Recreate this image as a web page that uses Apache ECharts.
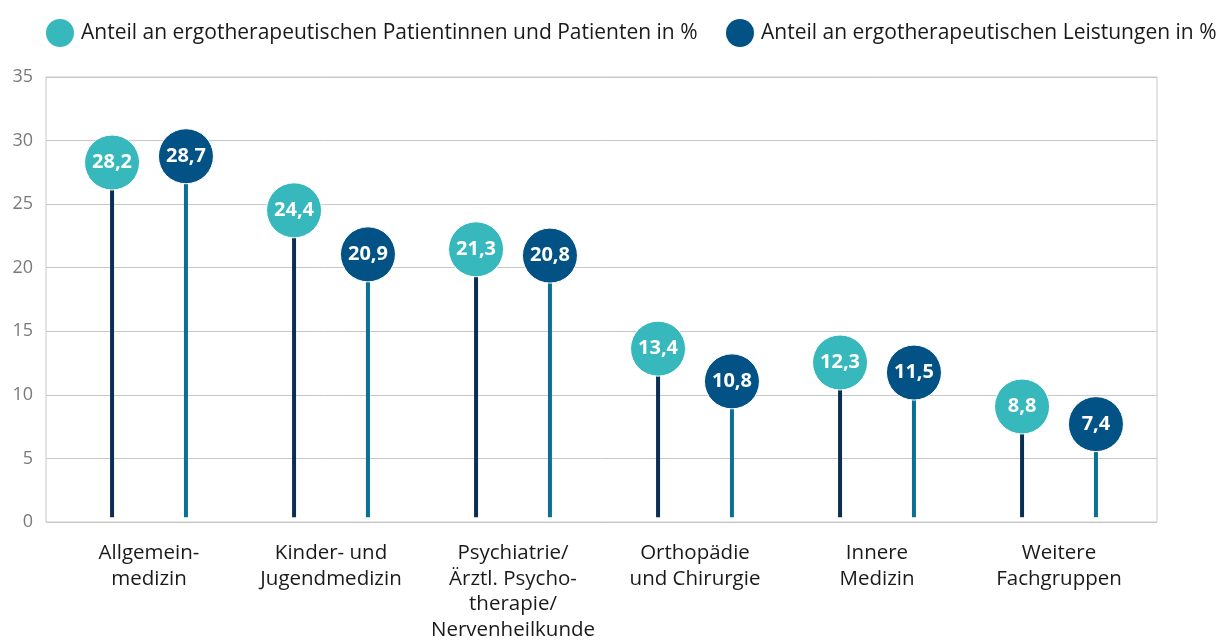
<!DOCTYPE html>
<html><head><meta charset="utf-8">
<script src="https://cdn.jsdelivr.net/npm/echarts@6/dist/echarts.min.js"></script>
<style>html,body{margin:0;padding:0;background:#fff}#c{width:1223px;height:643px}</style>
</head><body><div id="c"></div>
<script>
const categories = ['Allgemein-\nmedizin', 'Kinder- und\nJugendmedizin', 'Psychiatrie/\nÄrztl. Psycho-\ntherapie/\nNervenheilkunde', 'Orthopädie\nund Chirurgie', 'Innere\nMedizin', 'Weitere\nFachgruppen'];
const patients = [28.2, 24.4, 21.3, 13.4, 12.3, 8.8];
const services = [28.7, 20.9, 20.8, 10.8, 11.5, 7.4];
const seriesNames = ['Anteil an ergotherapeutischen Patientinnen und Patienten in %', 'Anteil an ergotherapeutischen Leistungen in %'];
const yTicks = [0, 5, 10, 15, 20, 25, 30, 35];

const FONT = '"Open Sans", sans-serif';
const chart = echarts.init(document.getElementById('c'));

function lollipop(shift, stemColor, dotColor) {
  return function (params, api) {
    const idx = api.value(0), val = api.value(1);
    const top = api.coord([idx, val]);
    const base = api.coord([idx, 0]);
    const bw = api.size([1, 0])[0];
    const x = top[0] + shift * bw;
    return {
      type: 'group',
      children: [
        { type: 'line', shape: { x1: x, y1: base[1], x2: x, y2: top[1] }, style: { stroke: stemColor, lineWidth: 4 } },
        { type: 'circle', shape: { cx: x, cy: top[1], r: 27.5 }, style: { fill: dotColor, stroke: '#fff', lineWidth: 1 } },
        { type: 'text', x: x, y: top[1], style: { text: String(val).replace('.', ','), fill: '#fff', font: 'bold 20px ' + FONT, align: 'center', verticalAlign: 'middle' } }
      ]
    };
  };
}

chart.setOption({
  animation: false,
  textStyle: { fontFamily: FONT },
  legend: [
    { data: [seriesNames[0]], left: 41, top: 14, icon: 'circle', itemWidth: 28, itemHeight: 28, itemGap: 10,
      textStyle: { fontSize: 21, color: '#1a1a1a', fontFamily: FONT, padding: [0, 0, 0, 2] } },
    { data: [seriesNames[1]], left: 721, top: 14, icon: 'circle', itemWidth: 28, itemHeight: 28, itemGap: 10,
      textStyle: { fontSize: 21, color: '#1a1a1a', fontFamily: FONT, padding: [0, 0, 0, 2] } }
  ],
  grid: [
    { left: 46, right: 66, top: 77, bottom: 121, show: true, borderColor: '#c8c8c8', borderWidth: 1, containLabel: false },
    { left: 58, right: 73, top: 77, bottom: 121, containLabel: false }
  ],
  xAxis: [
    { gridIndex: 0, type: 'category', data: categories, show: false },
    { gridIndex: 1, type: 'category', data: categories,
      axisLine: { show: false }, axisTick: { show: false },
      axisLabel: { fontSize: 20.5, lineHeight: 25.7, color: '#1a1a1a', margin: 23, interval: 0, fontFamily: FONT } }
  ],
  yAxis: [
    { gridIndex: 0, type: 'value', min: 0, max: 35, interval: 5,
      axisLine: { show: false }, axisTick: { show: false },
      axisLabel: { fontSize: 18, color: '#7a7a7a', margin: 13, fontFamily: FONT },
      splitLine: { lineStyle: { color: '#c8c8c8', width: 1 } } },
    { gridIndex: 1, type: 'value', min: 0, max: 35, interval: 5, show: false, splitLine: { show: false } }
  ],
  series: [
    { name: seriesNames[0], type: 'custom', xAxisIndex: 1, yAxisIndex: 1, itemStyle: { color: '#36b8bc' },
      data: patients.map((v, i) => [i, v]), renderItem: lollipop(-0.203, '#0b2f52', '#36b8bc') },
    { name: seriesNames[1], type: 'custom', xAxisIndex: 1, yAxisIndex: 1, itemStyle: { color: '#035286' },
      data: services.map((v, i) => [i, v]), renderItem: lollipop(0.203, '#0a7096', '#035286') }
  ]
});
</script></body></html>
